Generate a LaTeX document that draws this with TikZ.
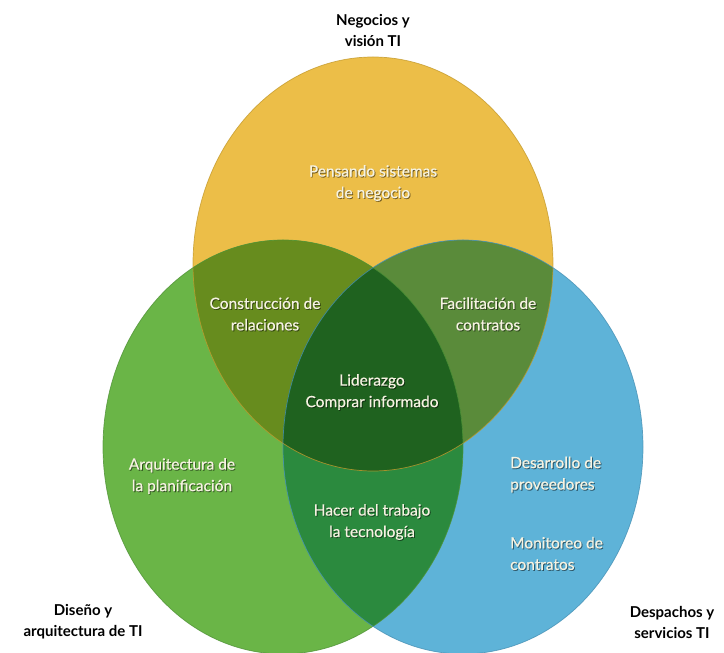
\documentclass[tikz,border=0pt]{standalone}
\usepackage{fontspec}
\setmainfont{Lato}
\newfontfamily\regionfont{Lato}[FakeBold=0.5]
\definecolor{yellowc}{HTML}{ECBE48}
\definecolor{greenc}{HTML}{6AB547}
\definecolor{bluec}{HTML}{5EB3D8}
\definecolor{ygc}{HTML}{678C1E}
\definecolor{ybc}{HTML}{5A8B3A}
\definecolor{gbc}{HTML}{2B8A3E}
\definecolor{ygbc}{HTML}{1F621F}
\definecolor{yedge}{HTML}{C49A2C}
\definecolor{gedge}{HTML}{4F9236}
\definecolor{bedge}{HTML}{4690B4}
\definecolor{txt}{HTML}{F6F3E2}
% text set in a region, with a soft drop shadow
\newcommand\regiontext[4][]{%
  \node[regtext,#1,text=black,opacity=.45] (#2-s) at ([shift={(0.9,-0.9)}]#3) {#4};
  \node[regtext,#1] (#2) at (#3) {#4};}
\begin{document}
\begin{tikzpicture}[x=1pt,y=1pt,
  settitle/.style={font=\bfseries\fontsize{15}{21}\selectfont, align=center, text=black, inner sep=0},
  regtext/.style={font=\regionfont\fontsize{15.5}{21.5}\selectfont, align=center, text=txt, inner sep=0},
  setshape/.style={x radius=180pt, y radius=207pt}]
\useasboundingbox (0,0) rectangle (724,653);
\fill[white] (0,0) rectangle (724,653);

% centres of the three sets
\coordinate (cy) at (373,389);
\coordinate (cg) at (283,206);
\coordinate (cb) at (463,206);

% single sets
\fill[yellowc] (cy) ellipse [setshape];
\fill[greenc] (cg) ellipse [setshape];
\fill[bluec] (cb) ellipse [setshape];

% pairwise overlaps
\begin{scope}
  \clip (cy) ellipse [setshape];
  \fill[ygc] (cg) ellipse [setshape];
  \fill[ybc] (cb) ellipse [setshape];
\end{scope}
\begin{scope}
  \clip (cg) ellipse [setshape];
  \fill[gbc] (cb) ellipse [setshape];
\end{scope}
% triple overlap
\begin{scope}
  \clip (cy) ellipse [setshape];
  \clip (cg) ellipse [setshape];
  \fill[ygbc] (cb) ellipse [setshape];
\end{scope}

% outlines
\draw[yedge, line width=0.7pt, opacity=.8] (cy) ellipse [setshape];
\draw[gedge, line width=0.7pt, opacity=.8] (cg) ellipse [setshape];
\draw[bedge, line width=0.7pt, opacity=.8] (cb) ellipse [setshape];

% set titles
\node[settitle] (tY) at (373,622) {Negocios y\\visión TI};
\node[settitle] (tG) at (83,31) {Diseño y\\arquitectura de TI};
\node[settitle] (tB) at (672,31) {Despachos y\\servicios TI};

% region texts
\regiontext{rY}{373,470}{Pensando sistemas\\de negocio}
\regiontext{rYG}{265,339}{Construcción de\\relaciones}
\regiontext{rYB}{488,339}{Facilitación de\\contratos}
\regiontext{rYGB}{372,261}{Liderazgo\\Comprar informado}
\regiontext{rG}{182,177}{Arquitectura de\\la planificación}
\regiontext{rGB}{372,131}{Hacer del trabajo\\la tecnología}
\regiontext[anchor=west,align=left]{rB1}{510,178.5}{Desarrollo de\\proveedores}
\regiontext[anchor=west,align=left]{rB2}{510,99.5}{Monitoreo de\\contratos}
\end{tikzpicture}
\end{document}
